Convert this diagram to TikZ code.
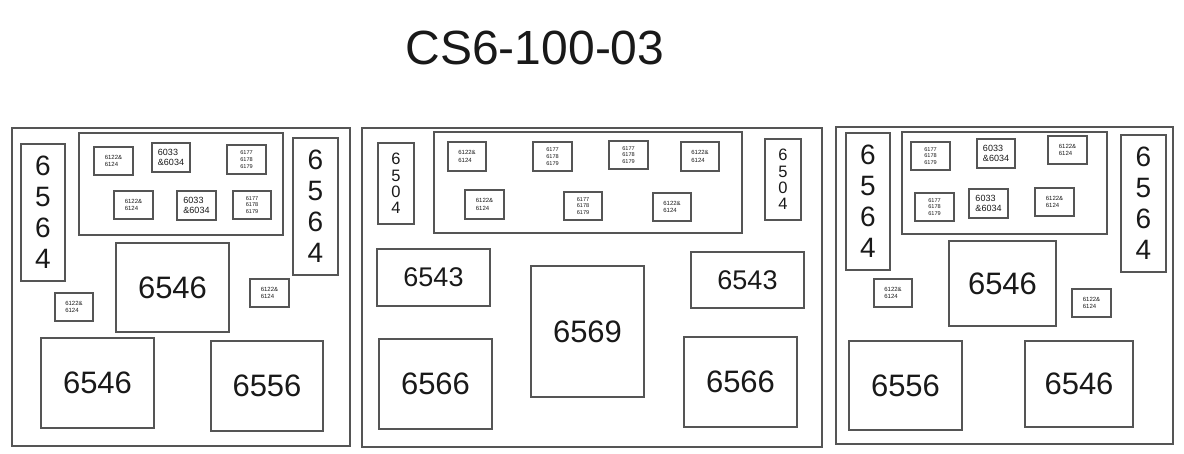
\documentclass[tikz,border=0pt]{standalone}
\usepackage{fontspec}
\setmainfont{Liberation Sans}
\definecolor{edge}{RGB}{85,85,85}
\definecolor{ink}{RGB}{25,25,25}
\tikzset{
  x=1pt, y=-1pt,
  box/.style={draw=edge, line width=1.1pt, rectangle, inner sep=0pt, outer sep=0pt, text=ink},
  tiny/.style={box, align=left, font=\fontsize{6}{7.5}\selectfont},
  tinythree/.style={box, align=left, font=\fontsize{5.6}{6.8}\selectfont},
  mid/.style={box, align=left, font=\fontsize{9}{10.5}\selectfont},
  big/.style={box, font=\fontsize{31}{31}\selectfont},
  med/.style={box, font=\fontsize{27}{27}\selectfont},
  vert/.style={box, align=center, font=\fontsize{28}{31}\selectfont},
  vertsmall/.style={box, align=center, font=\fontsize{16.5}{16.2}\selectfont},
  frame/.style={draw=edge, line width=1.1pt, rectangle, inner sep=0pt, outer sep=0pt},
}
\newcommand\bx[7]{\node[#6, minimum width={(#4-#2)*1pt}, minimum height={(#5-#3)*1pt}] (#1) at ({(#2+#4)/2},{(#3+#5)/2}) {#7};}
\begin{document}
\begin{tikzpicture}
\useasboundingbox (0,0) rectangle (1184,453);
\node[text=ink, font=\fontsize{48}{48}\selectfont] (title) at (535,48) {CS6-100-03};

% ---------- panel 1 ----------
\bx{pA}{12}{128}{350}{446}{frame}{}
\bx{pAin}{79}{133}{283}{235}{frame}{}
\bx{aV1}{21}{144}{65}{281}{vert}{6\\5\\6\\4}
\bx{aV2}{293}{138}{338}{275}{vert}{6\\5\\6\\4}
\bx{a1}{94}{147}{133}{175}{tiny}{6122\&\\6124}
\bx{a2}{152}{143}{190}{172}{mid}{6033\\\&6034}
\bx{a3}{227}{145}{266}{174}{tinythree}{6177\\6178\\6179}
\bx{a4}{114}{191}{153}{219}{tiny}{6122\&\\6124}
\bx{a5}{177}{191}{216}{220}{mid}{6033\\\&6034}
\bx{a6}{233}{191}{271}{219}{tinythree}{6177\\6178\\6179}
\bx{a7}{116}{243}{229}{332}{big}{6546}
\bx{a8}{55}{293}{93}{321}{tiny}{6122\&\\6124}
\bx{a9}{250}{279}{289}{307}{tiny}{6122\&\\6124}
\bx{a10}{41}{338}{154}{428}{big}{6546}
\bx{a11}{211}{341}{323}{431}{big}{6556}

% ---------- panel 2 ----------
\bx{pB}{362}{128}{822}{447}{frame}{}
\bx{pBin}{434}{132}{742}{233}{frame}{}
\bx{bV1}{378}{143}{414}{224}{vertsmall}{6\\5\\0\\4}
\bx{bV2}{765}{139}{801}{220}{vertsmall}{6\\5\\0\\4}
\bx{b1}{448}{142}{486}{171}{tiny}{6122\&\\6124}
\bx{b2}{533}{142}{572}{171}{tinythree}{6177\\6178\\6179}
\bx{b3}{609}{141}{648}{169}{tinythree}{6177\\6178\\6179}
\bx{b4}{681}{142}{719}{171}{tiny}{6122\&\\6124}
\bx{b5}{465}{190}{504}{219}{tiny}{6122\&\\6124}
\bx{b6}{564}{192}{602}{220}{tinythree}{6177\\6178\\6179}
\bx{b7}{653}{193}{691}{221}{tiny}{6122\&\\6124}
\bx{b8}{377}{249}{490}{306}{med}{6543}
\bx{b9}{531}{266}{644}{397}{big}{6569}
\bx{b10}{691}{252}{804}{308}{med}{6543}
\bx{b11}{379}{339}{492}{429}{big}{6566}
\bx{b12}{684}{337}{797}{427}{big}{6566}

% ---------- panel 3 ----------
\bx{pC}{836}{127}{1173}{444}{frame}{}
\bx{pCin}{902}{132}{1107}{234}{frame}{}
\bx{cV1}{846}{133}{890}{270}{vert}{6\\5\\6\\4}
\bx{cV2}{1121}{135}{1166}{272}{vert}{6\\5\\6\\4}
\bx{c1}{911}{142}{950}{170}{tinythree}{6177\\6178\\6179}
\bx{c2}{977}{139}{1015}{168}{mid}{6033\\\&6034}
\bx{c3}{1048}{136}{1087}{164}{tiny}{6122\&\\6124}
\bx{c4}{915}{193}{954}{221}{tinythree}{6177\\6178\\6179}
\bx{c5}{969}{189}{1008}{218}{mid}{6033\\\&6034}
\bx{c6}{1035}{188}{1074}{216}{tiny}{6122\&\\6124}
\bx{c7}{949}{241}{1056}{326}{big}{6546}
\bx{c8}{874}{279}{912}{307}{tiny}{6122\&\\6124}
\bx{c9}{1072}{289}{1111}{317}{tiny}{6122\&\\6124}
\bx{c10}{849}{341}{962}{430}{big}{6556}
\bx{c11}{1025}{341}{1133}{427}{big}{6546}
\end{tikzpicture}
\end{document}
